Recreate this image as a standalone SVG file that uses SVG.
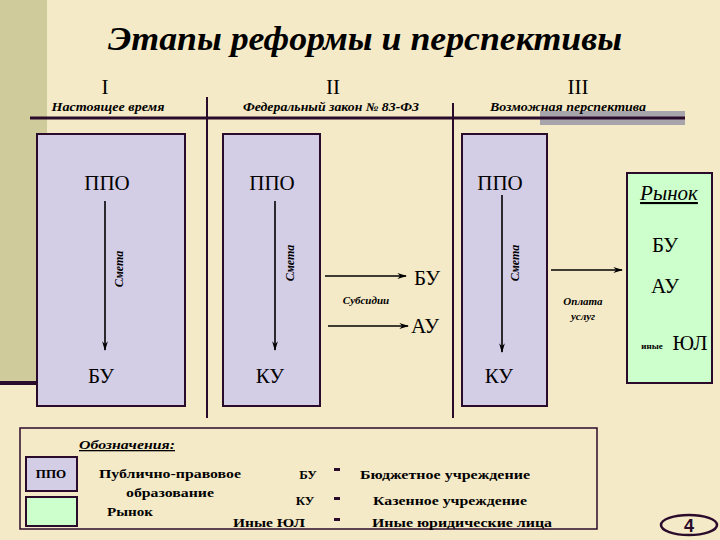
<svg xmlns="http://www.w3.org/2000/svg" width="720" height="540" viewBox="0 0 720 540" xml:lang="ru">
<defs>
<marker id="ah" viewBox="0 0 10 6" refX="9" refY="3" markerWidth="6" markerHeight="4" orient="auto" markerUnits="strokeWidth">
<path d="M0,0 L10,3 L0,6 L3,3 Z" fill="#000"/>
</marker>
</defs>
<rect x="0" y="0" width="720" height="540" fill="#F5EAC7"/>
<g id="sidebar">
<rect x="0" y="0" width="47" height="382" fill="#CFCB9A"/>
<rect x="0" y="381" width="40" height="4" fill="#2B0B2B"/>
</g>
<g id="header" font-family="Liberation Serif, Times New Roman, serif">
<text x="365" y="50" font-size="33" font-style="italic" font-weight="bold" text-anchor="middle" textLength="514" lengthAdjust="spacingAndGlyphs">Этапы реформы и перспективы</text>
<text x="105" y="94" font-size="21" text-anchor="middle">I</text>
<text x="333" y="94" font-size="21" text-anchor="middle">II</text>
<text x="578" y="94" font-size="21" text-anchor="middle">III</text>
<text x="108" y="111" font-size="12" font-style="italic" font-weight="bold" text-anchor="middle" textLength="113" lengthAdjust="spacingAndGlyphs">Настоящее время</text>
<text x="331" y="111" font-size="12" font-style="italic" font-weight="bold" text-anchor="middle" textLength="176" lengthAdjust="spacingAndGlyphs">Федеральный закон № 83-ФЗ</text>
<rect x="540" y="111" width="145" height="14" fill="#A8A4AC"/>
<text x="568" y="111" font-size="12" font-style="italic" font-weight="bold" text-anchor="middle" textLength="156" lengthAdjust="spacingAndGlyphs">Возможная перспектива</text>
<line x1="30" y1="118" x2="685" y2="118" stroke="#2B0B2B" stroke-width="3"/>
<line x1="207" y1="97" x2="207" y2="418" stroke="#2B0B2B" stroke-width="2"/>
<line x1="453" y1="103" x2="453" y2="418" stroke="#2B0B2B" stroke-width="2"/>
</g>
<g id="stage1" font-family="Liberation Serif, Times New Roman, serif">
<rect x="37" y="134" width="148" height="272" fill="#D3CDE6" stroke="#2B0B2B" stroke-width="2"/>
<text x="107" y="190" font-size="21" text-anchor="middle">ППО</text>
<text transform="translate(123,269) rotate(-90)" font-size="12" font-style="italic" font-weight="bold" text-anchor="middle">Смета</text>
<text x="101" y="383" font-size="21" text-anchor="middle">БУ</text>
</g>
<g id="stage2" font-family="Liberation Serif, Times New Roman, serif">
<rect x="223" y="134" width="97" height="272" fill="#D3CDE6" stroke="#2B0B2B" stroke-width="2"/>
<text x="272" y="190" font-size="21" text-anchor="middle">ППО</text>
<text transform="translate(294,263) rotate(-90)" font-size="12" font-style="italic" font-weight="bold" text-anchor="middle">Смета</text>
<text x="270" y="383" font-size="21" text-anchor="middle">КУ</text>
</g>
<g id="stage2-out" font-family="Liberation Serif, Times New Roman, serif">
<text x="427" y="285" font-size="21" text-anchor="middle">БУ</text>
<text x="425" y="333" font-size="21" text-anchor="middle">АУ</text>
<text x="366" y="304" font-size="11" font-style="italic" font-weight="bold" text-anchor="middle">Субсидии</text>
</g>
<g id="stage3" font-family="Liberation Serif, Times New Roman, serif">
<rect x="462" y="134" width="85" height="272" fill="#D3CDE6" stroke="#2B0B2B" stroke-width="2"/>
<text x="500" y="190" font-size="21" text-anchor="middle">ППО</text>
<text transform="translate(519,263) rotate(-90)" font-size="12" font-style="italic" font-weight="bold" text-anchor="middle">Смета</text>
<text x="499" y="383" font-size="21" text-anchor="middle">КУ</text>
<text x="583" y="305" font-size="11" font-style="italic" font-weight="bold" text-anchor="middle">Оплата</text>
<text x="583" y="320" font-size="11" font-style="italic" font-weight="bold" text-anchor="middle">услуг</text>
</g>
<g id="market" font-family="Liberation Serif, Times New Roman, serif">
<rect x="627" y="173" width="85" height="210" fill="#CCFFCC" stroke="#2B0B2B" stroke-width="2"/>
<text x="669" y="200" font-size="21" font-style="italic" text-anchor="middle" text-decoration="underline">Рынок</text>
<text x="665" y="252" font-size="21" text-anchor="middle">БУ</text>
<text x="665" y="293" font-size="21" text-anchor="middle">АУ</text>
<text x="652" y="349" font-size="9" font-weight="bold" text-anchor="middle">иные</text>
<text x="690" y="350" font-size="21" text-anchor="middle">ЮЛ</text>
</g>
<g id="connectors" stroke="#000" stroke-width="1.6" fill="none" marker-end="url(#ah)">
<line x1="105" y1="201" x2="105" y2="350"/>
<line x1="275" y1="201" x2="275" y2="350"/>
<line x1="502" y1="195" x2="502" y2="352"/>
<line x1="325" y1="276" x2="406" y2="276"/>
<line x1="328" y1="326" x2="408" y2="326"/>
<line x1="551" y1="270" x2="622" y2="270"/>
</g>
<g id="legend" font-family="Liberation Serif, Times New Roman, serif" font-size="13" font-weight="bold">
<rect x="20" y="428" width="577" height="101" fill="none" stroke="#2B0B2B" stroke-width="1.5"/>
<text x="79" y="449" font-style="italic" text-decoration="underline" textLength="96" lengthAdjust="spacingAndGlyphs">Обозначения:</text>
<rect x="26" y="457" width="51" height="34" fill="#D3CDE6" stroke="#2B0B2B" stroke-width="2"/>
<rect x="26" y="497" width="51" height="29" fill="#CCFFCC" stroke="#2B0B2B" stroke-width="2"/>
<text x="51" y="478" text-anchor="middle">ППО</text>
<text x="99" y="478" textLength="142" lengthAdjust="spacingAndGlyphs">Публично-правовое</text>
<text x="126" y="497" textLength="88" lengthAdjust="spacingAndGlyphs">образование</text>
<text x="107" y="516" textLength="46" lengthAdjust="spacingAndGlyphs">Рынок</text>
<text x="308" y="479" text-anchor="middle">БУ</text>
<text x="305" y="505" text-anchor="middle">КУ</text>
<text x="233" y="527" textLength="72" lengthAdjust="spacingAndGlyphs">Иные ЮЛ</text>
<rect x="334" y="468" width="6" height="3" fill="#2B0B2B"/>
<rect x="334" y="497" width="6" height="3" fill="#2B0B2B"/>
<rect x="334" y="518" width="6" height="3" fill="#2B0B2B"/>
<text x="360" y="479" textLength="170" lengthAdjust="spacingAndGlyphs">Бюджетное учреждение</text>
<text x="373" y="505" textLength="154" lengthAdjust="spacingAndGlyphs">Казенное учреждение</text>
<text x="372" y="527" textLength="180" lengthAdjust="spacingAndGlyphs">Иные юридические лица</text>
</g>
<g id="page">
<ellipse cx="689" cy="525" rx="28" ry="10" fill="none" stroke="#2B0B2B" stroke-width="2.5"/>
<text x="689" y="532" font-family="Liberation Sans, Arial, sans-serif" font-weight="bold" font-size="18" text-anchor="middle" fill="#2B0B2B">4</text>
</g>
</svg>
